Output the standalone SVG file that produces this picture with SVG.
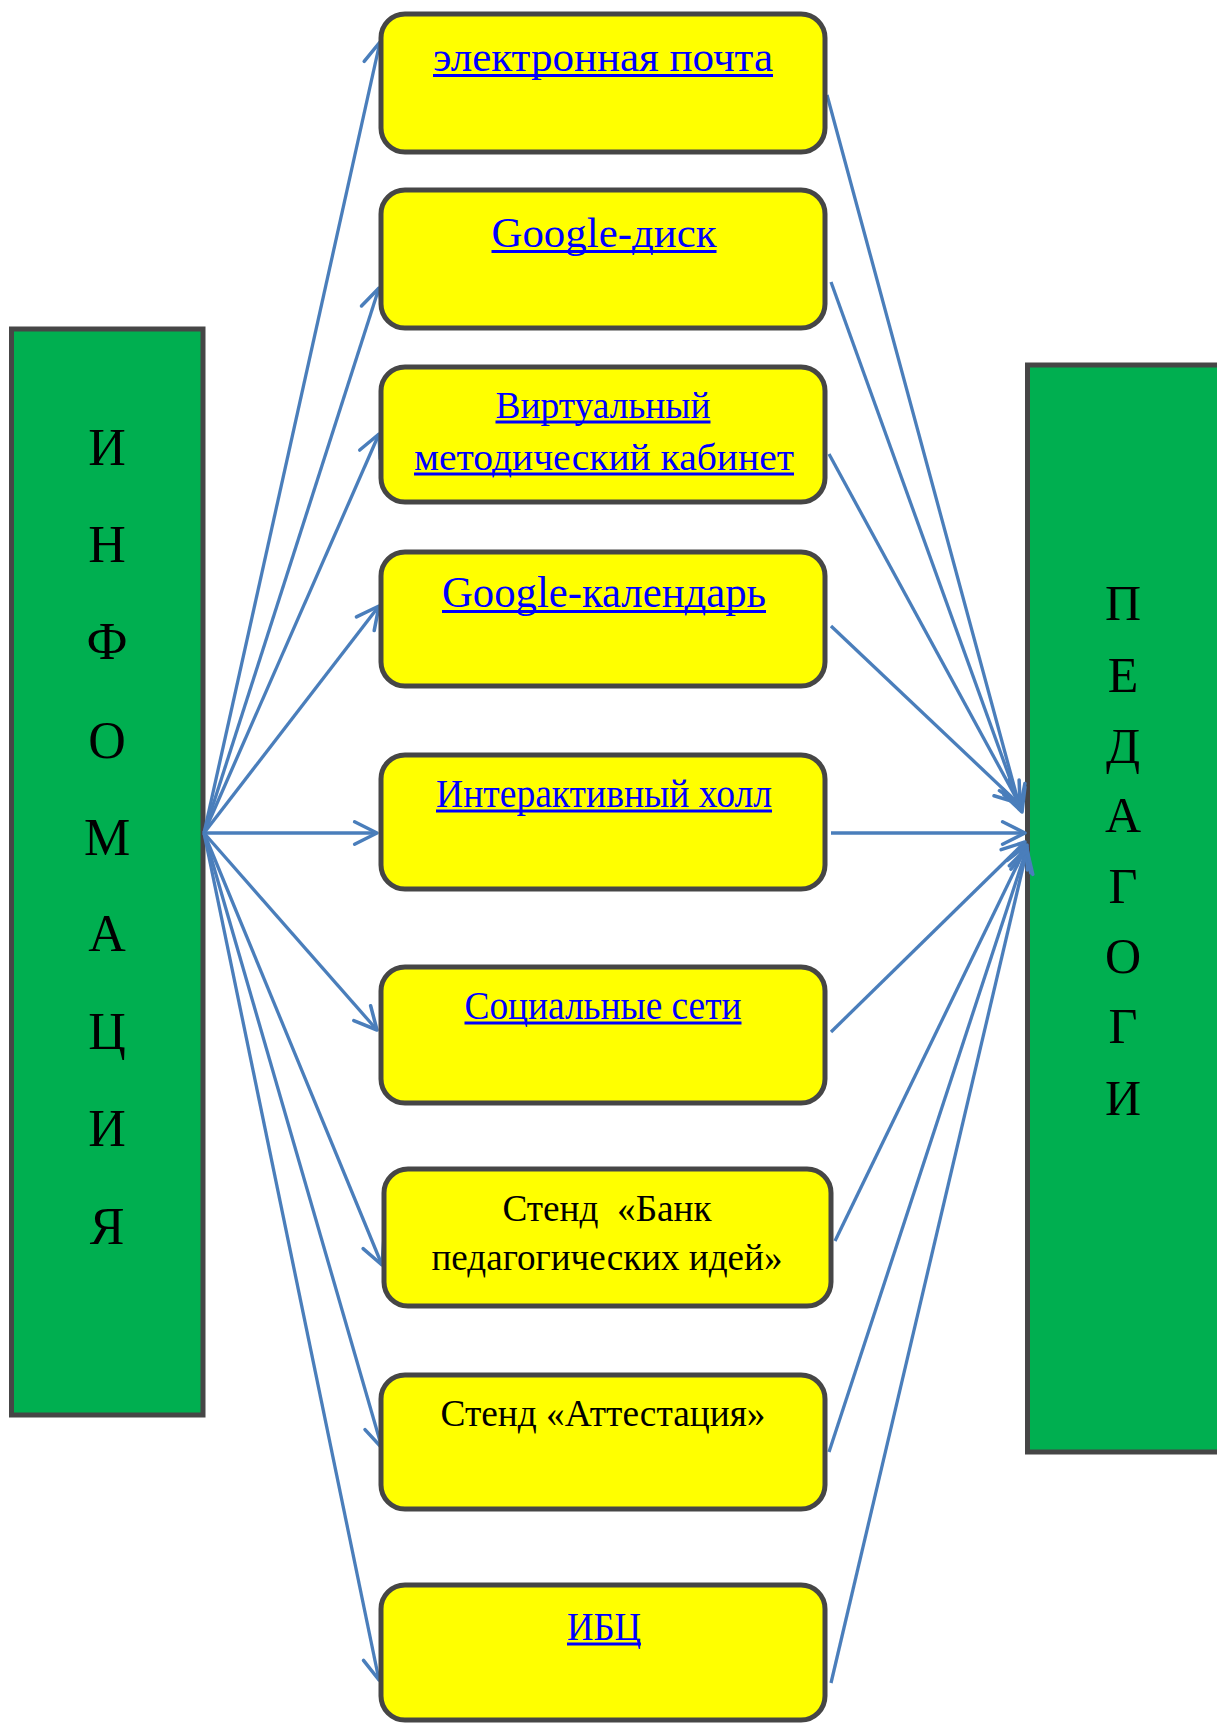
<svg xmlns="http://www.w3.org/2000/svg" width="1217" height="1723" viewBox="0 0 1217 1723">
<style>
.green{fill:#00AF50;stroke:#464646;stroke-width:5}
.yb{fill:#FFFF00;stroke:#464646;stroke-width:5}
.big{font-family:"Liberation Serif","Times New Roman",serif;fill:#000;text-anchor:middle}
.lnk{font-family:"Liberation Serif","Times New Roman",serif;fill:#0000FF;text-anchor:middle}
.ul{stroke:#0000FF;stroke-width:2.8}
.blk{font-family:"Liberation Serif","Times New Roman",serif;fill:#000;text-anchor:middle}
.c{stroke:#4A7EBB;stroke-width:3.3;fill:none;marker-end:url(#ah)}
</style>
<defs>
<marker id="ah" markerUnits="userSpaceOnUse" markerWidth="32" markerHeight="32" viewBox="-26 -14 30 28" refX="0" refY="0" orient="auto">
<path d="M-21,-10.5 L0,0 L-21,10.5" fill="none" stroke="#4A7EBB" stroke-width="3.3" stroke-linecap="round" stroke-linejoin="round"/>
</marker>
</defs>
<rect width="1217" height="1723" fill="#FFFFFF"/>
<g id="info">
<rect class="green" x="11.5" y="329" width="191.5" height="1086"/>
<text class="big" font-size="52" x="107" y="465">И</text>
<text class="big" font-size="52" x="107" y="562">Н</text>
<text class="big" font-size="52" x="107" y="659">Ф</text>
<text class="big" font-size="52" x="107" y="758">О</text>
<text class="big" font-size="52" x="107" y="855">М</text>
<text class="big" font-size="52" x="107" y="951">А</text>
<text class="big" font-size="52" x="107" y="1049">Ц</text>
<text class="big" font-size="52" x="107" y="1146">И</text>
<text class="big" font-size="52" x="107" y="1244">Я</text>
</g>
<g id="ped">
<rect class="green" x="1027.5" y="365" width="200" height="1087"/>
<text class="big" font-size="50" x="1123" y="620">П</text>
<text class="big" font-size="50" x="1123" y="692">Е</text>
<text class="big" font-size="50" x="1123" y="763">Д</text>
<text class="big" font-size="50" x="1123" y="832">А</text>
<text class="big" font-size="50" x="1123" y="903">Г</text>
<text class="big" font-size="50" x="1123" y="973">О</text>
<text class="big" font-size="50" x="1123" y="1043">Г</text>
<text class="big" font-size="50" x="1123" y="1115">И</text>
</g>
<g id="connectors">
<line class="c" x1="204" y1="833" x2="380" y2="42"/>
<line class="c" x1="204" y1="833" x2="379" y2="288"/>
<line class="c" x1="204" y1="833" x2="379" y2="434"/>
<line class="c" x1="204" y1="833" x2="379" y2="606"/>
<line class="c" x1="204" y1="833" x2="377" y2="833"/>
<line class="c" x1="204" y1="833" x2="377" y2="1030"/>
<line class="c" x1="204" y1="833" x2="382" y2="1265"/>
<line class="c" x1="204" y1="833" x2="382" y2="1448"/>
<line class="c" x1="204" y1="833" x2="379" y2="1680"/>
<line class="c" x1="827" y1="95" x2="1020" y2="808"/>
<line class="c" x1="831" y1="282" x2="1022" y2="812"/>
<line class="c" x1="829" y1="454" x2="1020" y2="805"/>
<line class="c" x1="831" y1="626" x2="1018" y2="803"/>
<line class="c" x1="831" y1="833" x2="1025" y2="833"/>
<line class="c" x1="831" y1="1032" x2="1025" y2="842"/>
<line class="c" x1="835" y1="1241" x2="1027" y2="845"/>
<line class="c" x1="829" y1="1452" x2="1027" y2="848"/>
<line class="c" x1="831" y1="1683" x2="1027" y2="850"/>
</g>
<g id="n1">
<rect class="yb" x="381" y="14" width="444" height="138" rx="24"/>
<text class="lnk" font-size="43" x="603" y="71" textLength="340" lengthAdjust="spacingAndGlyphs">электронная почта</text>
<line class="ul" x1="433" y1="75.5" x2="773" y2="75.5"/>
</g>
<g id="n2">
<rect class="yb" x="381" y="190" width="444" height="138" rx="24"/>
<text class="lnk" font-size="43" x="604" y="247" textLength="225" lengthAdjust="spacingAndGlyphs">Google-диск</text>
<line class="ul" x1="491.5" y1="251.5" x2="716.5" y2="251.5"/>
</g>
<g id="n3">
<rect class="yb" x="381" y="367" width="444" height="135" rx="24"/>
<text class="lnk" font-size="37" x="603" y="418" textLength="215" lengthAdjust="spacingAndGlyphs">Виртуальный</text>
<line class="ul" x1="495.5" y1="422" x2="710.5" y2="422"/>
<text class="lnk" font-size="37" x="604" y="470" textLength="380" lengthAdjust="spacingAndGlyphs">методический кабинет</text>
<line class="ul" x1="414" y1="474" x2="794" y2="474"/>
</g>
<g id="n4">
<rect class="yb" x="381" y="552" width="444" height="134" rx="24"/>
<text class="lnk" font-size="44" x="604" y="607" textLength="324" lengthAdjust="spacingAndGlyphs">Google-календарь</text>
<line class="ul" x1="442" y1="611.5" x2="766" y2="611.5"/>
</g>
<g id="n5">
<rect class="yb" x="381" y="755" width="444" height="134" rx="24"/>
<text class="lnk" font-size="40" x="604" y="807" textLength="336" lengthAdjust="spacingAndGlyphs">Интерактивный холл</text>
<line class="ul" x1="436" y1="811" x2="772" y2="811"/>
</g>
<g id="n6">
<rect class="yb" x="381" y="967" width="444" height="136" rx="24"/>
<text class="lnk" font-size="40" x="603" y="1019" textLength="277" lengthAdjust="spacingAndGlyphs">Социальные сети</text>
<line class="ul" x1="464.5" y1="1023" x2="741.5" y2="1023"/>
</g>
<g id="n7">
<rect class="yb" x="384" y="1169" width="447" height="137" rx="24"/>
<text class="blk" font-size="37" x="607" y="1221" textLength="209" lengthAdjust="spacingAndGlyphs" xml:space="preserve">Стенд  «Банк</text>
<text class="blk" font-size="37" x="607" y="1270" textLength="351" lengthAdjust="spacingAndGlyphs">педагогических идей»</text>
</g>
<g id="n8">
<rect class="yb" x="381" y="1375" width="444" height="134" rx="24"/>
<text class="blk" font-size="37" x="603" y="1426" textLength="325" lengthAdjust="spacingAndGlyphs">Стенд «Аттестация»</text>
</g>
<g id="n9">
<rect class="yb" x="381" y="1585" width="444" height="135" rx="24"/>
<text class="lnk" font-size="41" x="604" y="1640" textLength="74" lengthAdjust="spacingAndGlyphs">ИБЦ</text>
<line class="ul" x1="567" y1="1644" x2="641" y2="1644"/>
</g>
</svg>
